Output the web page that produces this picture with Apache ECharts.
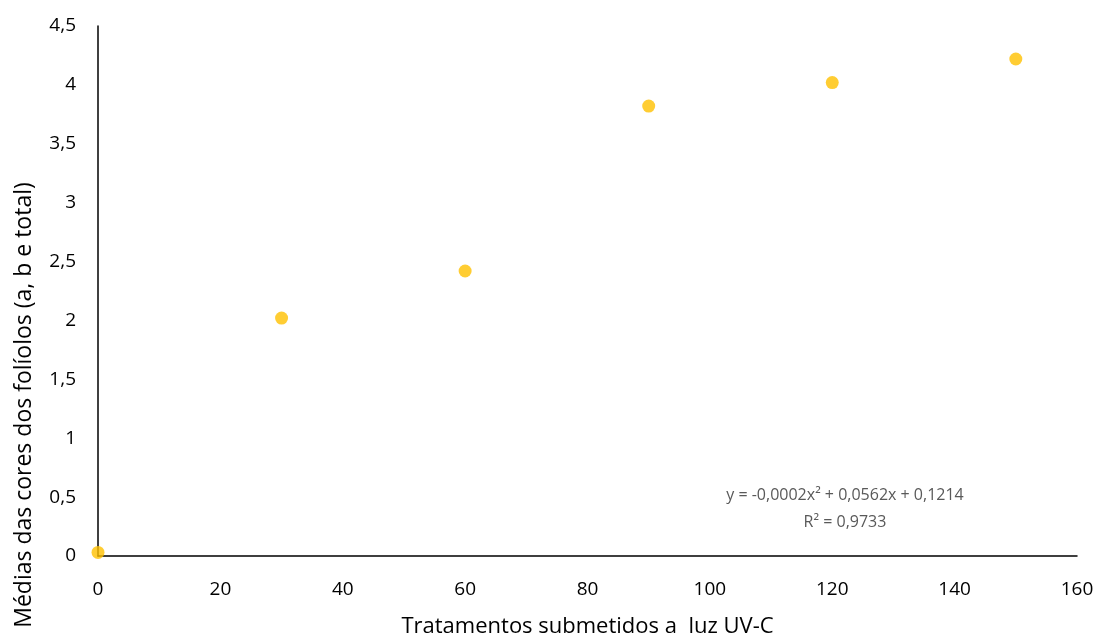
<!DOCTYPE html>
<html>
<head>
<meta charset="utf-8">
<script src="https://cdn.jsdelivr.net/npm/echarts@6/dist/echarts.min.js"></script>
<style>
  html, body { margin: 0; padding: 0; background: #fff; }
  #chart { width: 1100px; height: 637px; }
</style>
</head>
<body>
<div id="chart"></div>
<script>
// doses de UV-C (x) e médias das cores (y)
const doses = [0, 30, 60, 90, 120, 150];
const medias = [0.03, 2.02, 2.42, 3.82, 4.02, 4.22];
const equationLines = ['y = -0,0002x² + 0,0562x + 0,1214', 'R² = 0,9733'];

const fmt = v => String(v).replace('.', ',');
const font = '"Open Sans", "Liberation Sans", sans-serif';

const chart = echarts.init(document.getElementById('chart'), null, { renderer: 'canvas' });

chart.setOption({
  animation: false,
  grid: { left: 98, right: 23, top: 26, bottom: 81, containLabel: false, outerBoundsMode: 'none' },
  xAxis: {
    type: 'value',
    min: 0,
    max: 160,
    interval: 20,
    name: 'Tratamentos submetidos a  luz UV-C',
    nameLocation: 'middle',
    nameGap: 60,
    nameTextStyle: { fontFamily: font, fontSize: 22, color: '#000' },
    axisLine: { show: true, onZero: false, lineStyle: { color: '#000', width: 1.5 } },
    axisTick: { show: false },
    splitLine: { show: false },
    axisLabel: { fontFamily: font, fontSize: 19, color: '#000', margin: 24, formatter: fmt },
  },
  yAxis: {
    type: 'value',
    min: 0,
    max: 4.5,
    interval: 0.5,
    axisLine: { show: true, lineStyle: { color: '#000', width: 1.5 } },
    axisTick: { show: false },
    splitLine: { show: false },
    axisLabel: { fontFamily: font, fontSize: 19, color: '#000', margin: 22, formatter: fmt },
  },
  graphic: [
    {
      type: 'text',
      x: 24,
      y: 405,
      rotation: Math.PI / 2,
      style: {
        text: 'Médias das cores dos folíolos (a, b e total)',
        align: 'center',
        verticalAlign: 'middle',
        fontFamily: font,
        fontSize: 23,
        fill: '#000',
      },
    },
    ...equationLines.map((t, i) => ({
      type: 'text',
      x: 845,
      y: 495 + i * 27,
      style: {
        text: t,
        align: 'center',
        verticalAlign: 'middle',
        fontFamily: font,
        fontSize: 16,
        fill: '#595959',
      },
    })),
  ],
  series: [{
    type: 'scatter',
    symbolSize: 13,
    itemStyle: { color: '#FFC000' },
    data: doses.map((d, i) => [d, medias[i]]),
  }],
});
</script>
</body>
</html>
